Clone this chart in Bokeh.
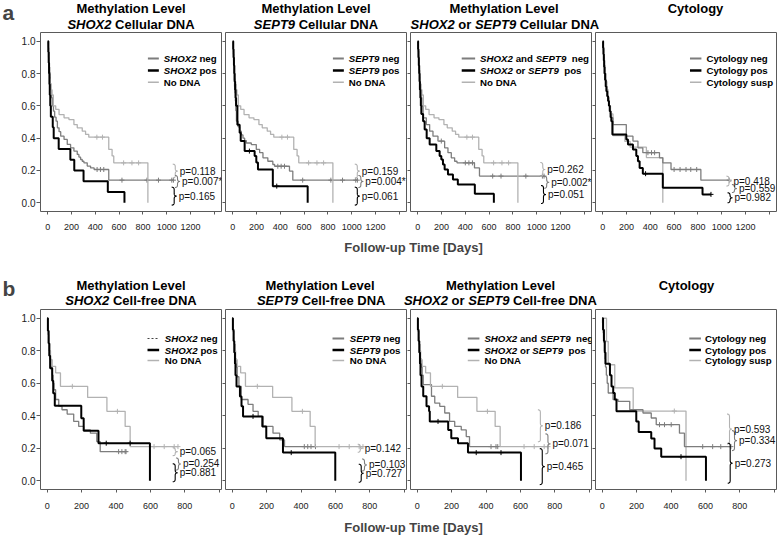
import numpy as np
from bokeh.plotting import figure
from bokeh.models import Label, Arrow, FixedTicker, PrintfTickFormatter, Range1d
from bokeh.layouts import column, row
from bokeh.embed import file_html
from bokeh.resources import INLINE

FONT = "Liberation Sans"

# ------------------------------------------------------------------ data
# Kaplan-Meier curves.
# *_t: event times (days), *_s: survival after each event, *_c: censor times
# Row a : cellular DNA
a1_neg_t = [3, 5, 7, 9, 11, 13, 16, 19, 22, 25, 32, 39, 48, 58, 70, 81, 95, 109, 137, 164, 192, 220, 248, 262, 276, 290, 304, 332, 360, 390, 513]
a1_neg_s = [0.98, 0.96, 0.93, 0.90, 0.87, 0.84, 0.81, 0.78, 0.74, 0.70, 0.65, 0.60, 0.567, 0.53, 0.505, 0.464, 0.44, 0.412, 0.392, 0.361, 0.34, 0.32, 0.299, 0.283, 0.268, 0.257, 0.247, 0.227, 0.216, 0.206, 0.14]
a1_neg_c = [415, 443, 471, 624, 834, 931, 1043, 1057]
a1_pos_t = [5, 8, 11, 14, 17, 21, 26, 42, 50, 92, 190, 223, 301, 505, 645]
a1_pos_s = [0.933, 0.867, 0.8, 0.733, 0.667, 0.6, 0.533, 0.467, 0.4, 0.333, 0.267, 0.2, 0.133, 0.067, 0.0]
a1_pos_c = []
a_nodna_t = [2, 4, 6, 8, 11, 14, 18, 22, 28, 35, 47, 67, 95, 137, 178, 220, 248, 290, 318, 345, 513, 541, 555, 842]
a_nodna_s = [0.967, 0.933, 0.9, 0.867, 0.833, 0.8, 0.767, 0.733, 0.7, 0.667, 0.6, 0.578, 0.546, 0.526, 0.515, 0.484, 0.464, 0.443, 0.423, 0.406, 0.33, 0.29, 0.247, 0.0]
a_nodna_c = [413, 460, 638, 708, 764]
a2_neg_t = [3, 5, 7, 9, 11, 13, 15, 18, 22, 26, 31, 45, 58, 72, 86, 100, 114, 156, 198, 226, 254, 295, 337, 352, 477, 505]
a2_neg_s = [0.96, 0.92, 0.88, 0.84, 0.80, 0.76, 0.72, 0.68, 0.63, 0.57, 0.505, 0.47, 0.443, 0.42, 0.40, 0.385, 0.37, 0.36, 0.33, 0.31, 0.278, 0.257, 0.237, 0.226, 0.196, 0.14]
a2_neg_c = [379, 407, 435, 588, 825, 923, 1034, 1048]
a2_pos_t = [4, 7, 10, 13, 16, 20, 24, 28, 39, 58, 67, 100, 184, 198, 212, 337, 630]
a2_pos_s = [0.95, 0.9, 0.85, 0.8, 0.75, 0.7, 0.65, 0.6, 0.483, 0.433, 0.382, 0.32, 0.289, 0.25, 0.206, 0.103, 0.0]
a2_pos_c = [140, 370]
a3_neg_t = [3, 5, 7, 9, 11, 13, 16, 19, 23, 28, 35, 45, 72, 100, 128, 170, 226, 254, 282, 310, 330, 477, 519]
a3_neg_s = [0.97, 0.94, 0.91, 0.88, 0.85, 0.82, 0.78, 0.74, 0.70, 0.65, 0.60, 0.526, 0.484, 0.443, 0.412, 0.382, 0.34, 0.31, 0.278, 0.257, 0.247, 0.216, 0.165]
a3_neg_c = [198, 400, 430, 460, 630, 700, 909, 1048, 1062]
a3_pos_t = [3, 6, 9, 12, 15, 18, 22, 26, 30, 45, 58, 75, 100, 156, 184, 198, 212, 226, 254, 296, 337, 480, 640]
a3_pos_s = [0.95, 0.9, 0.85, 0.8, 0.75, 0.7, 0.65, 0.6, 0.55, 0.505, 0.454, 0.40, 0.36, 0.32, 0.289, 0.268, 0.237, 0.206, 0.175, 0.144, 0.113, 0.056, 0.0]
a3_pos_c = []
a4_neg_t = [3, 6, 9, 12, 15, 20, 25, 31, 38, 45, 52, 59, 66, 72, 86, 198, 254, 296, 337, 477, 505, 574, 825]
a4_neg_s = [0.96, 0.92, 0.88, 0.84, 0.80, 0.76, 0.72, 0.69, 0.66, 0.63, 0.6, 0.567, 0.546, 0.526, 0.484, 0.412, 0.382, 0.34, 0.31, 0.278, 0.247, 0.206, 0.14]
a4_neg_c = [380, 410, 436, 600, 650, 700, 740, 790, 1063]
a4_pos_t = [3, 6, 9, 12, 15, 20, 25, 31, 38, 45, 52, 59, 66, 72, 81, 198, 212, 254, 282, 296, 310, 337, 505, 839]
a4_pos_s = [0.96, 0.92, 0.88, 0.84, 0.80, 0.76, 0.72, 0.69, 0.66, 0.63, 0.6, 0.567, 0.53, 0.505, 0.423, 0.392, 0.361, 0.33, 0.289, 0.257, 0.216, 0.18, 0.093, 0.052]
a4_pos_c = [360, 910]
a4_susp_t = [3, 8, 14, 20, 27, 35, 45, 55, 65, 86, 186, 230, 367, 505]
a4_susp_s = [0.95, 0.9, 0.85, 0.8, 0.75, 0.7, 0.65, 0.6, 0.55, 0.416, 0.38, 0.344, 0.28, 0.0]
a4_susp_c = []
# Row b : cell-free DNA
b1_neg_t = [3, 6, 9, 12, 16, 21, 29, 34, 39, 49, 67, 86, 116, 154, 183, 212, 251, 288, 308]
b1_neg_s = [0.95, 0.9, 0.85, 0.8, 0.75, 0.7, 0.65, 0.6, 0.56, 0.5, 0.458, 0.437, 0.41, 0.365, 0.334, 0.313, 0.293, 0.241, 0.179]
b1_neg_c = [415, 434, 453, 458]
b1_pos_t = [4, 8, 12, 17, 29, 35, 44, 198, 212, 298, 597]
b1_pos_s = [0.923, 0.846, 0.769, 0.692, 0.615, 0.538, 0.462, 0.385, 0.308, 0.231, 0.0]
b1_pos_c = [343, 482]
b_nodna_t = [3, 6, 9, 12, 15, 19, 29, 49, 77, 235, 347, 453, 482]
b_nodna_s = [0.96, 0.92, 0.88, 0.84, 0.8, 0.745, 0.704, 0.664, 0.581, 0.513, 0.427, 0.334, 0.21]
b_nodna_c = [146, 408, 621, 680, 738, 760]
b2_neg_t = [3, 6, 9, 12, 16, 19, 24, 29, 39, 53, 92, 121, 151, 180, 237, 276, 304]
b2_neg_s = [0.96, 0.92, 0.88, 0.84, 0.8, 0.75, 0.7, 0.64, 0.58, 0.5, 0.47, 0.427, 0.396, 0.334, 0.293, 0.251, 0.21]
b2_neg_c = [419, 439, 458, 484]
b2_pos_t = [4, 8, 12, 16, 19, 25, 45, 54, 63, 175, 198, 295, 599]
b2_pos_s = [0.93, 0.86, 0.79, 0.72, 0.65, 0.58, 0.519, 0.458, 0.396, 0.334, 0.262, 0.173, 0.0]
b2_pos_c = [121, 343]
b3_neg_t = [3, 6, 9, 12, 15, 19, 24, 29, 35, 83, 102, 131, 160, 188, 218, 256, 285, 304]
b3_neg_s = [0.96, 0.92, 0.88, 0.84, 0.8, 0.75, 0.7, 0.65, 0.592, 0.52, 0.478, 0.458, 0.417, 0.365, 0.334, 0.313, 0.272, 0.21]
b3_neg_c = [429, 458, 468]
b3_pos_t = [4, 8, 12, 16, 19, 25, 35, 54, 69, 73, 180, 198, 237, 295, 603]
b3_pos_s = [0.93, 0.86, 0.79, 0.72, 0.65, 0.58, 0.52, 0.458, 0.427, 0.365, 0.313, 0.262, 0.231, 0.173, 0.0]
b3_pos_c = [121, 343, 487]
b4_neg_t = [2, 4, 6, 8, 10, 13, 16, 19, 24, 29, 35, 63, 92, 160, 237, 285, 314, 449, 478]
b4_neg_s = [0.97, 0.94, 0.91, 0.88, 0.85, 0.80, 0.75, 0.70, 0.65, 0.60, 0.54, 0.5, 0.489, 0.437, 0.417, 0.386, 0.345, 0.293, 0.21]
b4_neg_c = [333, 362, 401, 584, 642, 689, 748]
b4_pos_t = [5, 10, 15, 19, 45, 54, 64, 73, 83, 198, 212, 285, 304, 343, 603]
b4_pos_s = [0.93, 0.86, 0.79, 0.72, 0.65, 0.58, 0.54, 0.5, 0.427, 0.365, 0.30, 0.26, 0.198, 0.148, 0.0]
b4_pos_c = [458]
b4_susp_t = [25, 35, 73, 180, 487]
b4_susp_s = [0.857, 0.714, 0.571, 0.429, 0.0]
b4_susp_c = [419]

# p-values
a1_p = ["p=0.118", "p=0.007*", "p=0.165"]
a2_p = ["p=0.159", "p=0.004*", "p=0.061"]
a3_p = ["p=0.262", "p=0.002*", "p=0.051"]
a4_p = ["p=0.418", "p=0.559", "p=0.982"]
b1_p = ["p=0.065", "p=0.254", "p=0.881"]
b2_p = ["p=0.142", "p=0.103", "p=0.727"]
b3_p = ["p=0.186", "p=0.071", "p=0.465"]
b4_p = ["p=0.593", "p=0.334", "p=0.273"]

# axis ticks
xa_ticks = [0, 200, 400, 600, 800, 1000, 1200]
xa_minor = [1400]
xb_ticks = [0, 200, 400, 600, 800]
xb_minor = [1000]
y_ticks = [0.0, 0.2, 0.4, 0.6, 0.8, 1.0]

# titles / legends (text segments: (text, italic))
t_cell = [[("SHOX2", 1), (" Cellular DNA", 0)], [("SEPT9", 1), (" Cellular DNA", 0)],
          [("SHOX2", 1), (" or ", 0), ("SEPT9", 1), (" Cellular DNA", 0)], None]
t_free = [[("SHOX2", 1), (" Cell-free DNA", 0)], [("SEPT9", 1), (" Cell-free DNA", 0)],
          [("SHOX2", 1), (" or ", 0), ("SEPT9", 1), (" Cell-free DNA", 0)], None]
leg_texts = [
    [[("SHOX2", 1), (" neg", 0)], [("SHOX2", 1), (" pos", 0)], [("No DNA", 0)]],
    [[("SEPT9", 1), (" neg", 0)], [("SEPT9", 1), (" pos", 0)], [("No DNA", 0)]],
    [[("SHOX2", 1), (" and ", 0), ("SEPT9", 1), ("  neg", 0)],
     [("SHOX2", 1), (" or ", 0), ("SEPT9", 1), ("  pos", 0)], [("No DNA", 0)]],
    [[("Cytology neg", 0)], [("Cytology pos", 0)], [("Cytology susp", 0)]],
]

# ------------------------------------------------------------------ style / geometry
NEG_C, POS_C, OTH_C = "#7d7d7d", "#000000", "#b2b2b2"
AX_C = "#5a5a5a"
XR_A = (-61, 1461)
XR_B = (-39, 1013)
YR = (-0.054, 1.054)
FW = 181
REF_FW = 182.0
FRAME_L = [40, 225, 410, 595]          # page x of frame left edges

BW = dict(zip("ABCDEFGHIJKLMNOPQRSTUVWXYZ",
              [722, 722, 722, 722, 667, 611, 778, 722, 278, 556, 722, 611, 833, 722, 778, 667, 778, 722, 667, 611, 722, 667, 944, 667, 667, 611]))
BW.update(dict(zip("abcdefghijklmnopqrstuvwxyz",
                   [556, 611, 556, 611, 556, 333, 611, 611, 278, 278, 556, 278, 889, 611, 611, 611, 611, 389, 556, 333, 611, 556, 778, 556, 556, 500])))
BW.update({" ": 278, "-": 333, "[": 333, "]": 333, "%": 889})
for d in "0123456789":
    BW[d] = 556


def tw(s, size):
    return sum(BW.get(ch, 556) for ch in s) * size / 1000.0


def km_xy(t, s, c):
    xs = [0.0] + list(t)
    ys = [1.0] + list(s)
    end = max(list(t) + list(c))
    if end > t[-1]:
        xs.append(end)
        ys.append(s[-1])
    return xs, ys


def surv_at(t, s, x):
    i = int(np.searchsorted(np.asarray(t), x, side="right"))
    return 1.0 if i == 0 else s[i - 1]


def put_segments(fig, segs, x0, y, size, conv=None, color="black"):
    """mixed bold / bold-italic text starting at pixel x0, vertically centred on y"""
    x = x0
    for t, it in segs:
        lead = len(t) - len(t.lstrip(" "))
        txt = t.strip(" ")
        px = x + tw(t[:lead], size)
        dx, dy = conv(px, y) if conv is not None else (px, y)
        fig.add_layout(Label(x=dx, y=dy, text=txt, text_font=FONT, text_font_size=f"{size}px",
                             text_font_style="bold italic" if it else "bold", text_color=color,
                             text_align="left", text_baseline="middle"))
        x += tw(t, size)


def brace_pts(x0, top, bot, w):
    """pixel path of a right curly brace"""
    xs_ = x0 + w / 2.0
    m = (top + bot) / 2.0
    r = min(w / 2.0, (bot - top) / 4.0)
    u = np.linspace(0, 1, 7)

    def q(p0, c, p1):
        return [((1 - v) ** 2 * p0[0] + 2 * (1 - v) * v * c[0] + v * v * p1[0],
                 (1 - v) ** 2 * p0[1] + 2 * (1 - v) * v * c[1] + v * v * p1[1]) for v in u]
    pts = q((x0, top), (xs_, top), (xs_, top + r))
    pts += q((xs_, m - r), (xs_, m), (x0 + w, m))
    pts += q((x0 + w, m), (xs_, m), (xs_, m + r))
    pts += q((xs_, bot - r), (xs_, bot), (x0, bot))
    return pts


def make_panel(col, rowname, xr, fh, xticks, xminor, curves, pvals, pvpos, brh, leg, leg_geo, ylab_dy, dashed_neg=False):
    widths = [222, 185, 185, 186]
    mbl = [40, 3, 3, 3]
    mbr = [1, 1, 1, 2]
    bottom = 25 if rowname == "a" else 24
    p = figure(width=widths[col], height=1 + fh + bottom, x_range=Range1d(*xr), y_range=Range1d(*YR),
               output_backend="svg", toolbar_location=None, title=None,
               min_border_left=mbl[col], min_border_right=mbr[col], min_border_top=1, min_border_bottom=bottom)
    p.xgrid.visible = False
    p.ygrid.visible = False
    p.outline_line_color = AX_C
    p.outline_line_width = 1
    p.background_fill_color = "white"
    p.border_fill_color = "white"

    def to_data(dx, dy):
        return (xr[0] + dx * (xr[1] - xr[0]) / FW, YR[1] - dy * (YR[1] - YR[0]) / fh)

    def to_px(x, y):
        return ((x - xr[0]) * FW / (xr[1] - xr[0]), (YR[1] - y) * fh / (YR[1] - YR[0]))

    xa = p.xaxis[0]
    xa.ticker = FixedTicker(ticks=xticks, minor_ticks=xminor)
    xa.axis_line_color = None
    xa.major_tick_line_color = AX_C
    xa.minor_tick_line_color = AX_C
    xa.major_tick_in = 0
    xa.minor_tick_in = 0
    xa.major_tick_out = 3
    xa.minor_tick_out = 3
    xa.major_label_standoff = 9 if rowname == "a" else 10
    xa.major_label_text_font = FONT
    xa.major_label_text_font_size = "9px"
    xa.major_label_text_color = "#222222"

    ya = p.yaxis[0]
    ya.ticker = FixedTicker(ticks=y_ticks)
    ya.formatter = PrintfTickFormatter(format="%.1f")
    ya.axis_line_color = None
    ya.major_tick_line_color = AX_C
    ya.major_tick_in = 0
    ya.minor_tick_line_color = None
    ya.major_label_text_font = FONT
    if col == 0:
        ya.major_tick_out = 4
        ya.major_label_standoff = 1
        ya.major_label_text_font_size = "10px"
        ya.major_label_text_color = "#222222"
    else:
        ya.major_tick_out = 3
        ya.major_label_standoff = 0
        ya.major_label_text_font_size = "0px"
        ya.major_label_text_color = None

    # curves
    for (t, s, c, color, lw) in curves:
        xs, ys = km_xy(t, s, c)
        p.step(x=xs, y=ys, mode="after", line_color=color, line_width=lw)
        if c:
            cy = [surv_at(t, s, v) for v in c]
            p.scatter(x=c, y=cy, marker="cross", size=5, line_color=color, line_width=1)

    # braces and p-values
    bcols = [OTH_C, NEG_C, POS_C]
    for k, (txt, (px_, py_)) in enumerate(zip(pvals, pvpos)):
        sx, sy = to_px(px_, py_)
        h = brh[k]
        pts = brace_pts(sx - 7.0, sy - h, sy + h, 5.0)
        bx, by = zip(*[to_data(a, b) for a, b in pts])
        p.line(x=list(bx), y=list(by), line_color=bcols[k], line_width=1.1)
        p.add_layout(Label(x=px_, y=py_, text=txt, text_font=FONT, text_font_size="10px",
                           text_color="#111111", text_align="left", text_baseline="middle"))

    # legend
    l0, l1, lt, rows = leg_geo
    sc = FW / REF_FW
    styles = [(NEG_C, 2.0), (POS_C, 2.6), (OTH_C, 1.4)]
    for k, (segs, dy) in enumerate(zip(leg, rows)):
        color, lw = styles[k]
        xa0, ya0 = to_data(l0 * sc, dy)
        xa1, _ = to_data(l1 * sc, dy)
        kw = {}
        if dashed_neg and k == 0:
            kw = dict(line_dash="2 2")
            color = "#444444"
            lw = 1.2
        p.add_layout(Arrow(end=None, x_start=xa0, y_start=ya0, x_end=xa1, y_end=ya0,
                           line_color=color, line_width=lw, **kw))
        put_segments(p, segs, lt * sc, dy, 9.7, conv=to_data)

    # y axis label (first column only)
    if col == 0:
        lx, ly = to_data(-31.5, ylab_dy)
        p.add_layout(Label(x=lx, y=ly, text="% Overall Survival", angle=np.pi / 2, text_font=FONT,
                           text_font_size="13px", text_font_style="bold", text_align="center",
                           text_baseline="middle", text_color="black"))
    return p


def strip(h):
    s = figure(width=778, height=h, x_range=Range1d(0, 778), y_range=Range1d(0, h),
               x_axis_type=None, y_axis_type=None, min_border=0, output_backend="svg",
               toolbar_location=None, title=None)
    s.outline_line_color = None
    return s


def titles(fig, tlist, offs, y1, y2, letter, ly):
    fig.add_layout(Label(x=2, y=ly, text=letter, text_font=FONT, text_font_size="21px", text_font_style="bold",
                         text_align="left", text_baseline="middle"))
    for i in range(4):
        cx = FRAME_L[i] + FW / 2.0 + offs[i]
        if tlist[i] is None:
            put_segments(fig, [("Cytology", 0)], cx - tw("Cytology", 13) / 2, y1, 13)
        else:
            put_segments(fig, [("Methylation Level", 0)], cx - tw("Methylation Level", 13) / 2, y1, 13)
            tot = sum(tw(t, 13) for t, _ in tlist[i])
            put_segments(fig, tlist[i], cx - tot / 2 + offs[i] * 0.3, y2, 13)


# ------------------------------------------------------------------ panels
LEG_A = [(108, 119, 124, [26, 38, 49.7]), (108, 119, 124, [26, 38, 49.7]),
         (51.5, 65, 70, [26, 38, 49.7]), (95, 106.5, 111.5, [26, 38, 49.7])]
LEG_B = [(107.6, 119.3, 125, [29, 40.5, 51]), (107.6, 119.3, 125, [29, 40.5, 51]),
         (57.6, 69.3, 74.3, [29, 40.5, 51]), (94.3, 106, 110, [29, 40.5, 51])]
PV_A = [[(1110, .196), (1129, .132), (1101, .041)], [(1085, .196), (1115, .132), (1085, .041)],
        [(1089, .206), (1122, .127), (1095, .051)], [(1099, .134), (1145, .088), (1108, .031)]]
PV_B = [[(770, .179), (789, .103), (770, .049)], [(770, .200), (795, .097), (776, .046)],
        [(742, .338), (786, .227), (753, .087)], [(766, .318), (795, .247), (770, .108)]]
BH_A = [[7, 6, 9], [7, 6, 9], [7, 6, 9], [5, 4, 5]]
BH_B = [[4, 6, 9], [4, 6, 9], [16, 10, 18], [15, 10, 20]]

curves_a = [
    [(a1_neg_t, a1_neg_s, a1_neg_c, NEG_C, 1.3), (a_nodna_t, a_nodna_s, a_nodna_c, OTH_C, 1.3), (a1_pos_t, a1_pos_s, a1_pos_c, POS_C, 2.0)],
    [(a2_neg_t, a2_neg_s, a2_neg_c, NEG_C, 1.3), (a_nodna_t, a_nodna_s, a_nodna_c, OTH_C, 1.3), (a2_pos_t, a2_pos_s, a2_pos_c, POS_C, 2.0)],
    [(a3_neg_t, a3_neg_s, a3_neg_c, NEG_C, 1.3), (a_nodna_t, a_nodna_s, a_nodna_c, OTH_C, 1.3), (a3_pos_t, a3_pos_s, a3_pos_c, POS_C, 2.0)],
    [(a4_susp_t, a4_susp_s, a4_susp_c, OTH_C, 1.3), (a4_neg_t, a4_neg_s, a4_neg_c, NEG_C, 1.3), (a4_pos_t, a4_pos_s, a4_pos_c, POS_C, 2.0)],
]
curves_b = [
    [(b1_neg_t, b1_neg_s, b1_neg_c, NEG_C, 1.3), (b_nodna_t, b_nodna_s, b_nodna_c, OTH_C, 1.3), (b1_pos_t, b1_pos_s, b1_pos_c, POS_C, 2.0)],
    [(b2_neg_t, b2_neg_s, b2_neg_c, NEG_C, 1.3), (b_nodna_t, b_nodna_s, b_nodna_c, OTH_C, 1.3), (b2_pos_t, b2_pos_s, b2_pos_c, POS_C, 2.0)],
    [(b3_neg_t, b3_neg_s, b3_neg_c, NEG_C, 1.3), (b_nodna_t, b_nodna_s, b_nodna_c, OTH_C, 1.3), (b3_pos_t, b3_pos_s, b3_pos_c, POS_C, 2.0)],
    [(b4_susp_t, b4_susp_s, b4_susp_c, OTH_C, 1.3), (b4_neg_t, b4_neg_s, b4_neg_c, NEG_C, 1.3), (b4_pos_t, b4_pos_s, b4_pos_c, POS_C, 2.0)],
]
pv_a = [a1_p, a2_p, a3_p, a4_p]
pv_b = [b1_p, b2_p, b3_p, b4_p]

figs_a = [make_panel(i, "a", XR_A, 179, xa_ticks, xa_minor, curves_a[i], pv_a[i], PV_A[i], BH_A[i], leg_texts[i], LEG_A[i], 84.5)
          for i in range(4)]
figs_b = [make_panel(i, "b", XR_B, 180, xb_ticks, xb_minor, curves_b[i], pv_b[i], PV_B[i], BH_B[i], leg_texts[i], LEG_B[i], 82.5,
                     dashed_neg=(i == 0)) for i in range(4)]

# top strip (page y 0..31): panel letter a + titles of row a (y measured from strip bottom)
top = strip(31)
titles(top, t_cell, [0, 0, 3, 9.5], 31 - 8.3, 31 - 23.6, "a", 31 - 12.0)

# middle strip (page y 236..308): x label of row a + letter b + titles of row b
mid = strip(72)
mid.add_layout(Label(x=413, y=61, text="Follow-up Time [Days]", text_font=FONT, text_font_size="13px",
                     text_font_style="bold", text_align="center", text_baseline="middle"))
titles(mid, t_free, [0, 4, -0.5, 0.5], 308 - 285, 308 - 300, "b", 308 - 287.5)

# bottom strip (page y 513..536): x label of row b
bot = strip(23)
bot.add_layout(Label(x=413, y=9, text="Follow-up Time [Days]", text_font=FONT, text_font_size="13px",
                     text_font_style="bold", text_align="center", text_baseline="middle"))

layout = column(top, row(*figs_a), mid, row(*figs_b), bot)
open("out.html", "w").write(file_html(layout, INLINE))
